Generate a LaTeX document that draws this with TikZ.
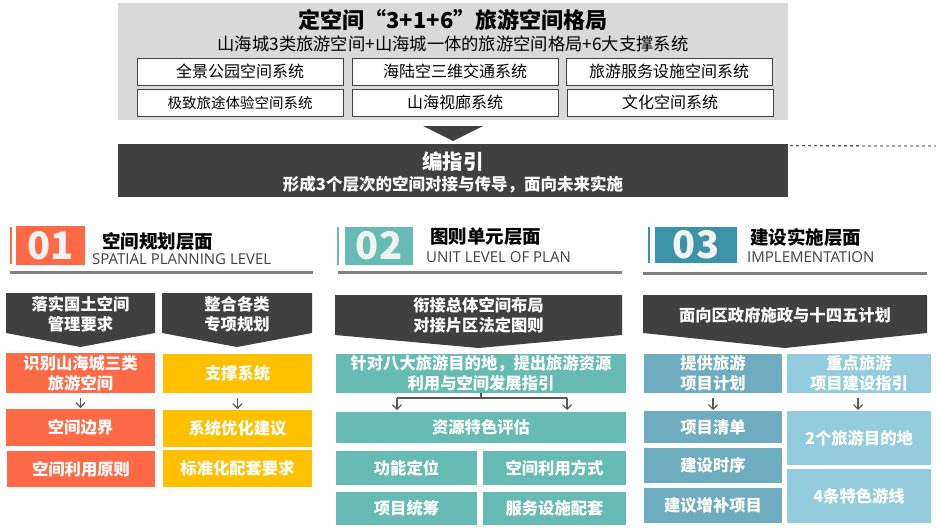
\documentclass[tikz,border=0pt]{standalone}
\usepackage{fontspec}
\setmainfont{Noto Sans CJK SC}
\newfontfamily\enfont{Open Sans}
\usetikzlibrary{arrows.meta}
\definecolor{orng}{HTML}{FF6A46}
\definecolor{ylw}{HTML}{FFC000}
\definecolor{teal2}{HTML}{66BBB4}
\definecolor{blu3}{HTML}{3B93A8}
\definecolor{bcol}{HTML}{6EADBF}
\definecolor{ccol}{HTML}{93CCDC}
\definecolor{lg}{HTML}{D9D9D9}
\definecolor{dk}{HTML}{404040}
\definecolor{rulec}{HTML}{7F7F7F}
\definecolor{arrg}{HTML}{595959}
\definecolor{numc}{HTML}{F2F2F2}
\definecolor{engc}{HTML}{404040}
\newcommand\rbox[7]{\node[bx, fill=#2, minimum width={#5-#3}, minimum height={#6-#4}] (#1) at ({(#3+#5)/2},{(#4+#6)/2}) {#7};}
\newcommand\pentshape[5]{\fill[dk] (#1,#3) -- (#2,#3) -- (#2,#4) -- ({(#1+#2)/2},#5) -- (#1,#4) -- cycle;}
\begin{document}
\begin{tikzpicture}[x=1pt,y=-1pt,
 bx/.style={inner sep=0pt, outer sep=0pt, align=center, text=white, font=\bfseries\fontsize{16.3}{20}\selectfont},
 wb/.style={draw=dk, line width=0.8pt, fill=white, inner sep=0pt, minimum width=206pt, minimum height=27pt, font=\fontsize{16}{18}\selectfont, text=black},
 sarr/.style={draw=arrg, line width=1.2pt, -{Straight Barb[length=4.5pt,width=9pt]}},
 sline/.style={draw=arrg, line width=1.2pt},
 numbox/.style={inner sep=0pt, outer sep=0pt, text=numc, font=\bfseries\fontsize{38}{40}\selectfont},
 ttl/.style={anchor=west, inner sep=0pt, font=\bfseries\fontsize{18.5}{20}\selectfont, text=black},
 eng/.style={anchor=west, inner sep=0pt, font=\enfont\fontsize{15}{17}\selectfont, text=engc},
 rule/.style={draw=rulec, line width=3pt},
 txt/.style={inner sep=0pt, align=center},
 ]
\useasboundingbox (0,0) rectangle (936,530);
\fill[white] (0,0) rectangle (936,530);

% ---------- top block ----------
\node[fill=lg, minimum width=670pt, minimum height=117pt, inner sep=0pt] (topbg) at (453,61.5) {};
\node[txt, font=\bfseries\fontsize{22}{24}\selectfont] (ttl0) at (453,20) {定空间“3+1+6”旅游空间格局};
\node[txt, font=\fontsize{17.3}{19}\selectfont] (sub0) at (453,44) {山海城3类旅游空间+山海城一体的旅游空间格局+6大支撑系统};
\node[wb] (w1) at (240,71.5) {全景公园空间系统};
\node[wb] (w2) at (455,71.5) {海陆空三维交通系统};
\node[wb] (w3) at (669,71.5) {旅游服务设施空间系统};
\node[wb, font=\fontsize{14.5}{16}\selectfont] (w4) at (240,102.5) {极致旅途体验空间系统};
\node[wb] (w5) at (455,102.5) {山海视廊系统};
\node[wb] (w6) at (670,102.5) {文化空间系统};
\fill[dk] (423,126) -- (483,126) -- (453,141) -- cycle;
\node[fill=dk, minimum width=670pt, minimum height=53pt, inner sep=0pt] (bar) at (453,170.5) {};
\node[txt, text=white, font=\bfseries\fontsize{20.5}{22}\selectfont] (bart) at (453,162) {编指引};
\node[txt, text=white, font=\bfseries\fontsize{16.5}{18}\selectfont] (bars) at (453,185) {形成3个层次的空间对接与传导，面向未来实施};
\coordinate (dashend) at (936,146);
\draw[dashed, line width=0.8pt, black] ([xshift=2pt,yshift=-2pt]bar.north east) -- (dashend);

% ---------- section 1 ----------
\draw[orng, line width=1.5pt] (11,227) -- (11,264);
\node[numbox, fill=orng, minimum width=69pt, minimum height=39pt] (n1) at (50.5,245.5) {01};
\node[ttl] (h1) at (102,241) {空间规划层面};
\node[eng] (e1) at (92,259) {SPATIAL PLANNING LEVEL};
\draw[rule] (10,272) -- (313,272);
\pentshape{6}{155}{293}{333}{347}
\node[bx] (p1) at (80.5,314) {落实国土空间\\管理要求};
\pentshape{162}{312}{293}{333}{347}
\node[bx] (p2) at (237,314) {整合各类\\专项规划};
\rbox{o1}{orng}{6}{353}{155}{393}{识别山海城三类\\旅游空间}
\rbox{o2}{orng}{6}{409}{155}{446}{空间边界}
\rbox{o3}{orng}{7}{451}{155}{487}{空间利用原则}
\rbox{y1}{ylw}{163}{354}{312}{393}{支撑系统}
\rbox{y2}{ylw}{163}{410}{312}{447}{系统优化建议}
\rbox{y3}{ylw}{163}{450}{312}{487}{标准化配套要求}
\draw[sarr] ([yshift=-5pt]o1.south) -- ([yshift=1pt]o2.north);
\draw[sarr] ([yshift=-5pt]y1.south) -- ([yshift=1pt]y2.north);

% ---------- section 2 ----------
\draw[teal2, line width=1.5pt] (338,227) -- (338,265);
\node[numbox, fill=teal2, minimum width=68pt, minimum height=38pt] (n2) at (379,246) {02};
\node[ttl] (h2) at (430,237) {图则单元层面};
\node[eng] (e2) at (426,257) {UNIT LEVEL OF PLAN};
\draw[rule] (338,272) -- (622,272);
\pentshape{335}{622}{295}{335}{348}
\node[bx] (p3) at (478.5,315) {衔接总体空间布局\\对接片区法定图则};
\rbox{t1}{teal2}{336}{354}{626}{393}{针对八大旅游目的地，提出旅游资源\\利用与空间发展指引}
\rbox{t2}{teal2}{336}{412}{626}{443}{资源特色评估}
\rbox{t3}{teal2}{336}{451}{477}{485}{功能定位}
\rbox{t4}{teal2}{483}{451}{626}{485}{空间利用方式}
\rbox{t5}{teal2}{336}{492}{477}{525}{项目统筹}
\rbox{t6}{teal2}{483}{492}{626}{525}{服务设施配套}
\coordinate (jm) at (481,398);
\coordinate (jl) at (397,398);
\coordinate (jr) at (567,398);
\draw[sline] (t1.south) -- (jm);
\draw[sline] (jl) -- (jr);
\draw[sarr] (jl) -- ([yshift=2pt]jl |- t2.north);
\draw[sarr] (jr) -- ([yshift=2pt]jr |- t2.north);

% ---------- section 3 ----------
\draw[blu3, line width=1.5pt] (649,227) -- (649,263);
\node[numbox, fill=blu3, minimum width=82pt, minimum height=36pt] (n3) at (696,245) {03};
\node[ttl] (h3) at (750,237) {建设实施层面};
\node[eng] (e3) at (747,257) {IMPLEMENTATION};
\draw[rule] (643,273) -- (927,273);
\pentshape{643}{927}{295}{333}{348}
\node[bx] (p4) at (785,315) {面向区政府施政与十四五计划};
\rbox{b1}{bcol}{644}{354}{782}{393}{提供旅游\\项目计划}
\rbox{b2}{bcol}{644}{411}{782}{443}{项目清单}
\rbox{b3}{bcol}{644}{448}{782}{483}{建设时序}
\rbox{b4}{bcol}{644}{488}{782}{523}{建议增补项目}
\rbox{c1}{ccol}{787}{354}{931}{393}{重点旅游\\项目建设指引}
\rbox{c2}{ccol}{787}{411}{931}{465}{2个旅游目的地}
\rbox{c3}{ccol}{787}{469}{931}{523}{4条特色游线}
\draw[sarr] ([yshift=-5pt]b1.south) -- ([yshift=1pt]b2.north);
\draw[sarr] ([xshift=-1pt,yshift=-5pt]c1.south) -- ([xshift=-1pt,yshift=1pt]c2.north);
\end{tikzpicture}
\end{document}
